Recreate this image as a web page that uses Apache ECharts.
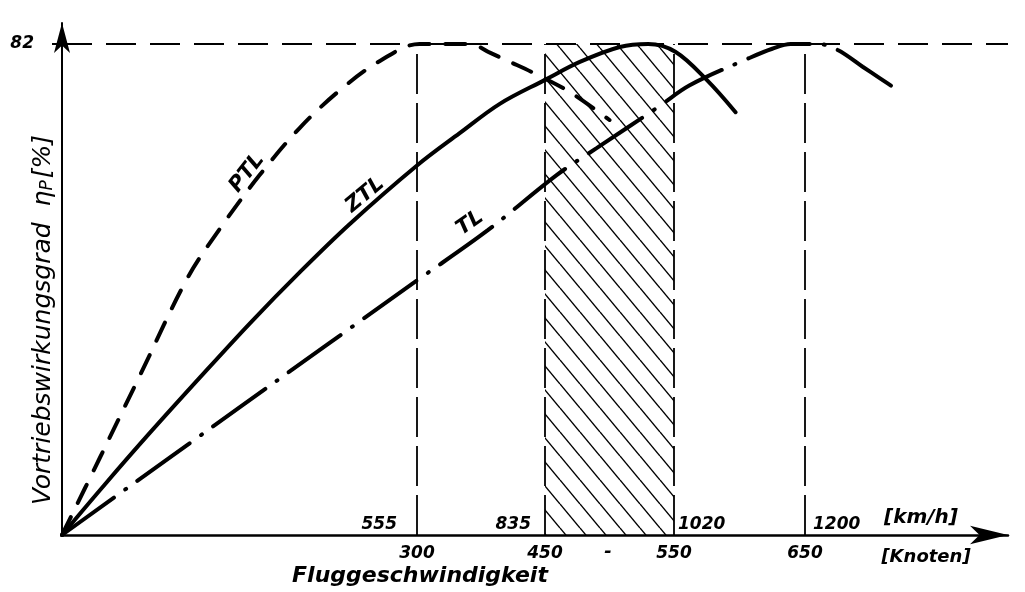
<!DOCTYPE html>
<html>
<head>
<meta charset="utf-8">
<script src="https://cdn.jsdelivr.net/npm/echarts@6/dist/echarts.min.js"></script>
<style>
  html, body { margin: 0; background: #fff; }
  #chart { width: 1025px; height: 592px; }
</style>
</head>
<body>
<div id="chart"></div>
<script>
// Fluggeschwindigkeit [Knoten] / Vortriebswirkungsgrad [%]
const ptlSpeed = [0, 32, 66, 106, 134, 167, 201, 235, 269, 303, 362, 386, 409, 436, 469, 500];
const ptlEta = [0, 12.9, 26.7, 42.9, 51.3, 60.1, 68, 74.3, 79.2, 82, 82, 80.5, 79, 77.2, 74, 69.3];

const ztlSpeed = [0, 36, 74, 117, 159, 201, 243, 300, 350, 397, 450, 477, 508, 530, 551, 575, 597];
const ztlEta = [0, 8.4, 17, 26.4, 35.4, 43.9, 51.9, 61.7, 67.1, 72, 76, 79, 81.5, 82, 80.7, 76, 70.6];

const tlSpeed = [0, 150, 300, 383, 459, 490, 538, 562, 608, 625, 639, 660, 675, 694, 707, 724];
const tlEta = [0, 21.3, 42.5, 50.9, 60.1, 64.6, 71.5, 75.1, 79.7, 81.2, 82, 82, 81, 78.2, 76.3, 73.8];

const speedTicks = [0, 300, 450, 550, 650];      // Knoten
const kmhTicks = [555, 835, 1020, 1200];         // km/h at 300, 450, 550, 650 kn
const etaMax = 82;
const jetBand = [450, 550];                      // hatched band

// the drawn speed scale is not to scale: where each tick sits (px from origin)
const speedTickPos = [0, 355, 483, 612, 743];

const toAxis = kn => {
  let i = 0;
  while (i < speedTicks.length - 2 && kn > speedTicks[i + 1]) i++;
  const k0 = speedTicks[i], k1 = speedTicks[i + 1];
  const p0 = speedTickPos[i], p1 = speedTickPos[i + 1];
  return p0 + (kn - k0) * (p1 - p0) / (k1 - k0);
};

const font = { fontFamily: 'DejaVu Sans', fontStyle: 'italic', fontWeight: 'bold', color: '#000' };
const txt = (text, x, y, size, rot) => ({
  type: 'text', x, y, rotation: (rot || 0) * Math.PI / 180,
  style: { text, ...font, fill: '#000', fontSize: size, align: 'center', verticalAlign: 'middle' }
});

// hatch pattern for the band
const hatch = document.createElement('canvas');
hatch.width = 20; hatch.height = 24;
const hc = hatch.getContext('2d');
hc.strokeStyle = '#000';
hc.lineWidth = 1.4;
[-20, 0, 20].forEach(o => {
  hc.beginPath(); hc.moveTo(o, 0); hc.lineTo(o + 20, 24); hc.stroke();
});

const kmhLabelStyle = [
  { position: 'left', distance: 20 },
  { position: 'left', distance: 14 },
  { position: 'right', distance: 4 },
  { position: 'right', distance: 8 }
];

const curve = (name, sp, eta, type) => ({
  name, type: 'line', silent: true, smooth: 0.35, showSymbol: false,
  data: sp.map((s, i) => [toAxis(s), eta[i]]),
  lineStyle: { color: '#000', width: 4, type, cap: 'round' },
  z: 5
});

const vLine = kn => [
  { coord: [toAxis(kn), 0] },
  { coord: [toAxis(kn), etaMax] }
];

const chart = echarts.init(document.getElementById('chart'));
chart.setOption({
  animation: false,
  backgroundColor: '#fff',
  grid: { left: 62, right: 17, top: 23, bottom: 57 },
  xAxis: {
    type: 'value', min: 0, max: 946,
    splitLine: { show: false },
    axisLine: { symbol: ['none', 'arrow'], symbolSize: [14, 38], lineStyle: { color: '#000', width: 2.5 } },
    axisTick: { show: false },
    axisLabel: {
      ...font, fontSize: 17, margin: 10,
      customValues: speedTicks.slice(1).map(toAxis),
      formatter: v => {
        const i = speedTicks.findIndex(k => Math.abs(toAxis(k) - v) < 0.5);
        return i >= 0 ? String(speedTicks[i]) : '';
      }
    }
  },
  yAxis: {
    type: 'value', min: 0, max: 85.5,
    splitLine: { show: false },
    axisLine: { show: true, symbol: ['none', 'arrow'], symbolSize: [12, 30], lineStyle: { color: '#000', width: 2 } },
    axisTick: { show: true, customValues: [etaMax], length: 10, lineStyle: { color: '#000', width: 2 } },
    axisLabel: { ...font, fontSize: 17, margin: 28, customValues: [etaMax] }
  },
  series: [
    curve('PTL', ptlSpeed, ptlEta, [20, 16]),
    curve('ZTL', ztlSpeed, ztlEta, 'solid'),
    curve('TL', tlSpeed, tlEta, [64, 14, 1, 14]),
    {
      type: 'scatter', silent: true, symbolSize: 0,
      itemStyle: { color: '#000' },
      data: kmhTicks.map((v, i) => ({
        value: [toAxis(speedTicks[i + 1]), 0],
        label: kmhLabelStyle[i]
      })),
      label: {
        show: true, ...font, fontSize: 17, opacity: 1, offset: [0, -10],
        formatter: p => String(kmhTicks[p.dataIndex])
      },
      markArea: {
        silent: true,
        itemStyle: { color: { image: hatch, repeat: 'repeat' }, opacity: 1 },
        data: [[{ coord: [toAxis(jetBand[0]), 0] }, { coord: [toAxis(jetBand[1]), etaMax] }]]
      },
      markLine: {
        silent: true, symbol: 'none', label: { show: false },
        lineStyle: { color: '#000', width: 1.8, type: [40, 9] },
        data: [
          { yAxis: etaMax, lineStyle: { width: 2, type: [30, 14] } },
          vLine(300), vLine(jetBand[0]), vLine(jetBand[1]), vLine(650)
        ]
      }
    }
  ],
  graphic: [
    txt('Fluggeschwindigkeit', 420, 576, 22),
    txt('[km/h]', 921, 518, 20),
    txt('[Knoten]', 926, 557, 18),
    txt('-', 608, 552, 18),
    txt('PTL', 247, 173, 21, 52),
    txt('ZTL', 365, 195, 21, 40),
    txt('TL', 470, 223, 21, 35),
    {
      type: 'text', x: 43, y: 320, rotation: Math.PI / 2,
      style: {
        text: '{a|Vortriebswirkungsgrad  η}{s|P}{a|[%]}',
        align: 'center', verticalAlign: 'middle',
        rich: {
          a: { ...font, fontWeight: 'normal', fill: '#000', fontSize: 25 },
          s: { ...font, fontWeight: 'normal', fill: '#000', fontSize: 17, padding: [9, 2, 0, 0] }
        }
      }
    }
  ]
});
</script>
</body>
</html>
